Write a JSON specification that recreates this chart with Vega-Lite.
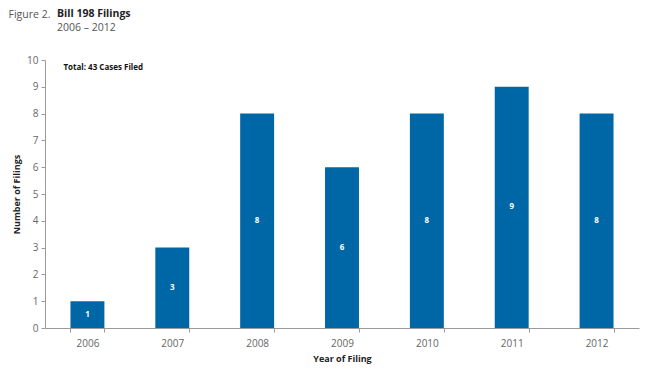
{
  "$schema": "https://vega.github.io/schema/vega-lite/v6.json",
  "autosize": {"type": "none"},
  "width": 594,
  "height": 268,
  "padding": {"left": 45, "top": 60, "right": 11, "bottom": 49},
  "background": "white",
  "config": {
    "font": "Open Sans",
    "view": {"stroke": null},
    "axis": {"grid": false, "domainColor": "#9a9a9a", "tickColor": "#9a9a9a", "labelColor": "#666666", "labelFont": "Open Sans", "labelFontSize": 10, "titleFont": "Open Sans", "titleFontSize": 9, "titleFontWeight": "bold", "titleColor": "#222222"}
  },
  "title": {
    "text": "Bill 198 Filings",
    "subtitle": "2006 – 2012",
    "anchor": "start",
    "frame": "group",
    "dx": 12,
    "offset": -24,
    "font": "Open Sans",
    "fontSize": 10.5,
    "fontWeight": "bold",
    "color": "#222222",
    "subtitleFont": "Open Sans",
    "subtitleFontSize": 10.5,
    "subtitleColor": "#555555",
    "subtitlePadding": 4
  },
  "data": {
    "values": [
      {"year": "2006", "filings": 1},
      {"year": "2007", "filings": 3},
      {"year": "2008", "filings": 8},
      {"year": "2009", "filings": 6},
      {"year": "2010", "filings": 8},
      {"year": "2011", "filings": 9},
      {"year": "2012", "filings": 8}
    ]
  },
  "encoding": {
    "x": {
      "field": "year",
      "type": "nominal",
      "title": "Year of Filing",
      "scale": {"paddingInner": 0.6, "paddingOuter": 0.3},
      "axis": {"labelAngle": 0, "tickBand": "extent", "tickSize": 4, "labelPadding": 6, "titlePadding": 6}
    }
  },
  "resolve": {"scale": {"y": "independent"}, "axis": {"y": "independent"}},
  "layer": [
    {
      "mark": {"type": "bar", "color": "#0067a7"},
      "encoding": {
        "y": {
          "field": "filings",
          "type": "quantitative",
          "title": "Number of Filings",
          "scale": {"domain": [0, 10]},
          "axis": {"values": [0,1,2,3,4,5,6,7,8,9,10], "tickSize": 4, "labelPadding": 3, "titlePadding": 5}
        }
      }
    },
    {
      "mark": {"type": "text", "color": "white", "fontWeight": "bold", "fontSize": 8, "baseline": "middle"},
      "encoding": {
        "y": {"field": "filings", "type": "quantitative", "scale": {"domain": [0, 20]}, "axis": null},
        "text": {"field": "filings", "type": "quantitative"}
      }
    },
    {
      "data": {"values": [{"label": "Total: 43 Cases Filed"}]},
      "mark": {"type": "text", "color": "#111111", "fontWeight": "bold", "fontSize": 8, "align": "left", "baseline": "middle", "dx": -24},
      "encoding": {
        "x": {"datum": "2006", "type": "nominal"},
        "y": {"datum": 9.7, "type": "quantitative", "scale": {"domain": [0, 10]}, "axis": null},
        "text": {"field": "label", "type": "nominal"}
      }
    },
    {
      "data": {"values": [{"label": "Figure 2."}]},
      "mark": {"type": "text", "color": "#555555", "fontSize": 10.5, "align": "right", "baseline": "middle", "dx": -37},
      "encoding": {
        "x": {"datum": "2006", "type": "nominal"},
        "y": {"datum": 11.68, "type": "quantitative", "scale": {"domain": [0, 10]}, "axis": null},
        "text": {"field": "label", "type": "nominal"}
      }
    }
  ]
}
